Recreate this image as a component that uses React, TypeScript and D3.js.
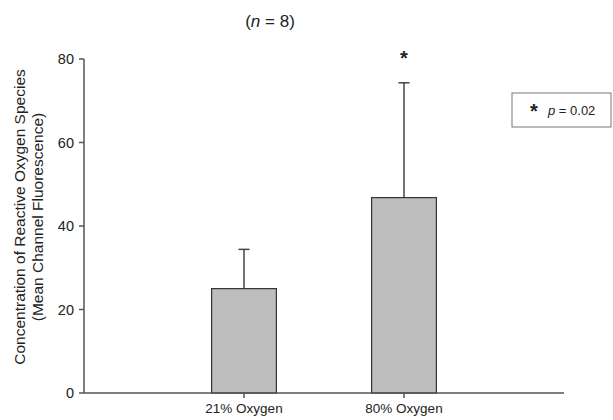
import React from "react";
import * as d3 from "d3";

const categories = ["21% Oxygen", "80% Oxygen"];
const means = [25.0, 46.8];
const errors = [9.4, 27.5];
const yTicks = [0, 20, 40, 60, 80];
const significant = [false, true];

export default function App() {
  const W = 613, H = 420;
  const x = d3.scaleLinear().domain([0, categories.length + 1]).range([84, 564]);
  const y = d3.scaleLinear().domain([0, 80]).range([393, 59]);
  const barW = x(0.405) - x(0);
  const font = "'Liberation Sans', Arial, sans-serif";
  const axisColor = "#555";
  return (
    <svg width={W} height={H} style={{ position: "absolute", left: 0, top: 0, background: "#fff" }} fontFamily={font}>
      <text x={270} y={27} textAnchor="middle" fontSize={17} fill="#222">
        (<tspan fontStyle="italic">n</tspan> = 8)
      </text>
      {categories.map((c, i) => {
        const cx = x(i + 1);
        const top = y(means[i]);
        const et = y(means[i] + errors[i]);
        return (
          <g key={c}>
            <line x1={cx} x2={cx} y1={top} y2={et} stroke="#444" strokeWidth={1.5} />
            <line x1={cx - 5.5} x2={cx + 5.5} y1={et} y2={et} stroke="#444" strokeWidth={1.5} />
            <rect x={cx - barW / 2} y={top} width={barW} height={y(0) - top} fill="#bdbdbd" stroke="#333" strokeWidth={1.2} />
            {significant[i] && (
              <text x={cx} y={et - 18} textAnchor="middle" fontSize={20} fontWeight="bold" fill="#222">*</text>
            )}
            <line x1={cx} x2={cx} y1={y(0)} y2={y(0) + 5} stroke={axisColor} strokeWidth={1.5} />
            <text x={cx} y={y(0) + 20} textAnchor="middle" fontSize={13.5} fill="#222">{c}</text>
          </g>
        );
      })}
      <line x1={x(0)} x2={x(0)} y1={y(80)} y2={y(0)} stroke={axisColor} strokeWidth={1.5} />
      <line x1={x(0)} x2={x(categories.length + 1)} y1={y(0)} y2={y(0)} stroke={axisColor} strokeWidth={1.5} />
      {yTicks.map((t) => (
        <g key={t}>
          <line x1={x(0) - 5} x2={x(0)} y1={y(t)} y2={y(t)} stroke={axisColor} strokeWidth={1.5} />
          <text x={x(0) - 10} y={y(t)} dy="0.35em" textAnchor="end" fontSize={14.5} fill="#222">{t}</text>
        </g>
      ))}
      <g transform={`translate(25, 217) rotate(-90)`}>
        <text x={0} y={0} textAnchor="middle" fontSize={15.5} fill="#222">Concentration of Reactive Oxygen Species</text>
        <text x={0} y={18} textAnchor="middle" fontSize={15.5} fill="#222">(Mean Channel Fluorescence)</text>
      </g>
      <rect x={512} y={93} width={99} height={34} fill="#fff" stroke="#777" strokeWidth={1} />
      <text x={534} y={118} textAnchor="middle" fontSize={20} fontWeight="bold" fill="#222">*</text>
      <text x={548} y={115} fontSize={13} fill="#222">
        <tspan fontStyle="italic">p</tspan> = 0.02
      </text>
    </svg>
  );
}
